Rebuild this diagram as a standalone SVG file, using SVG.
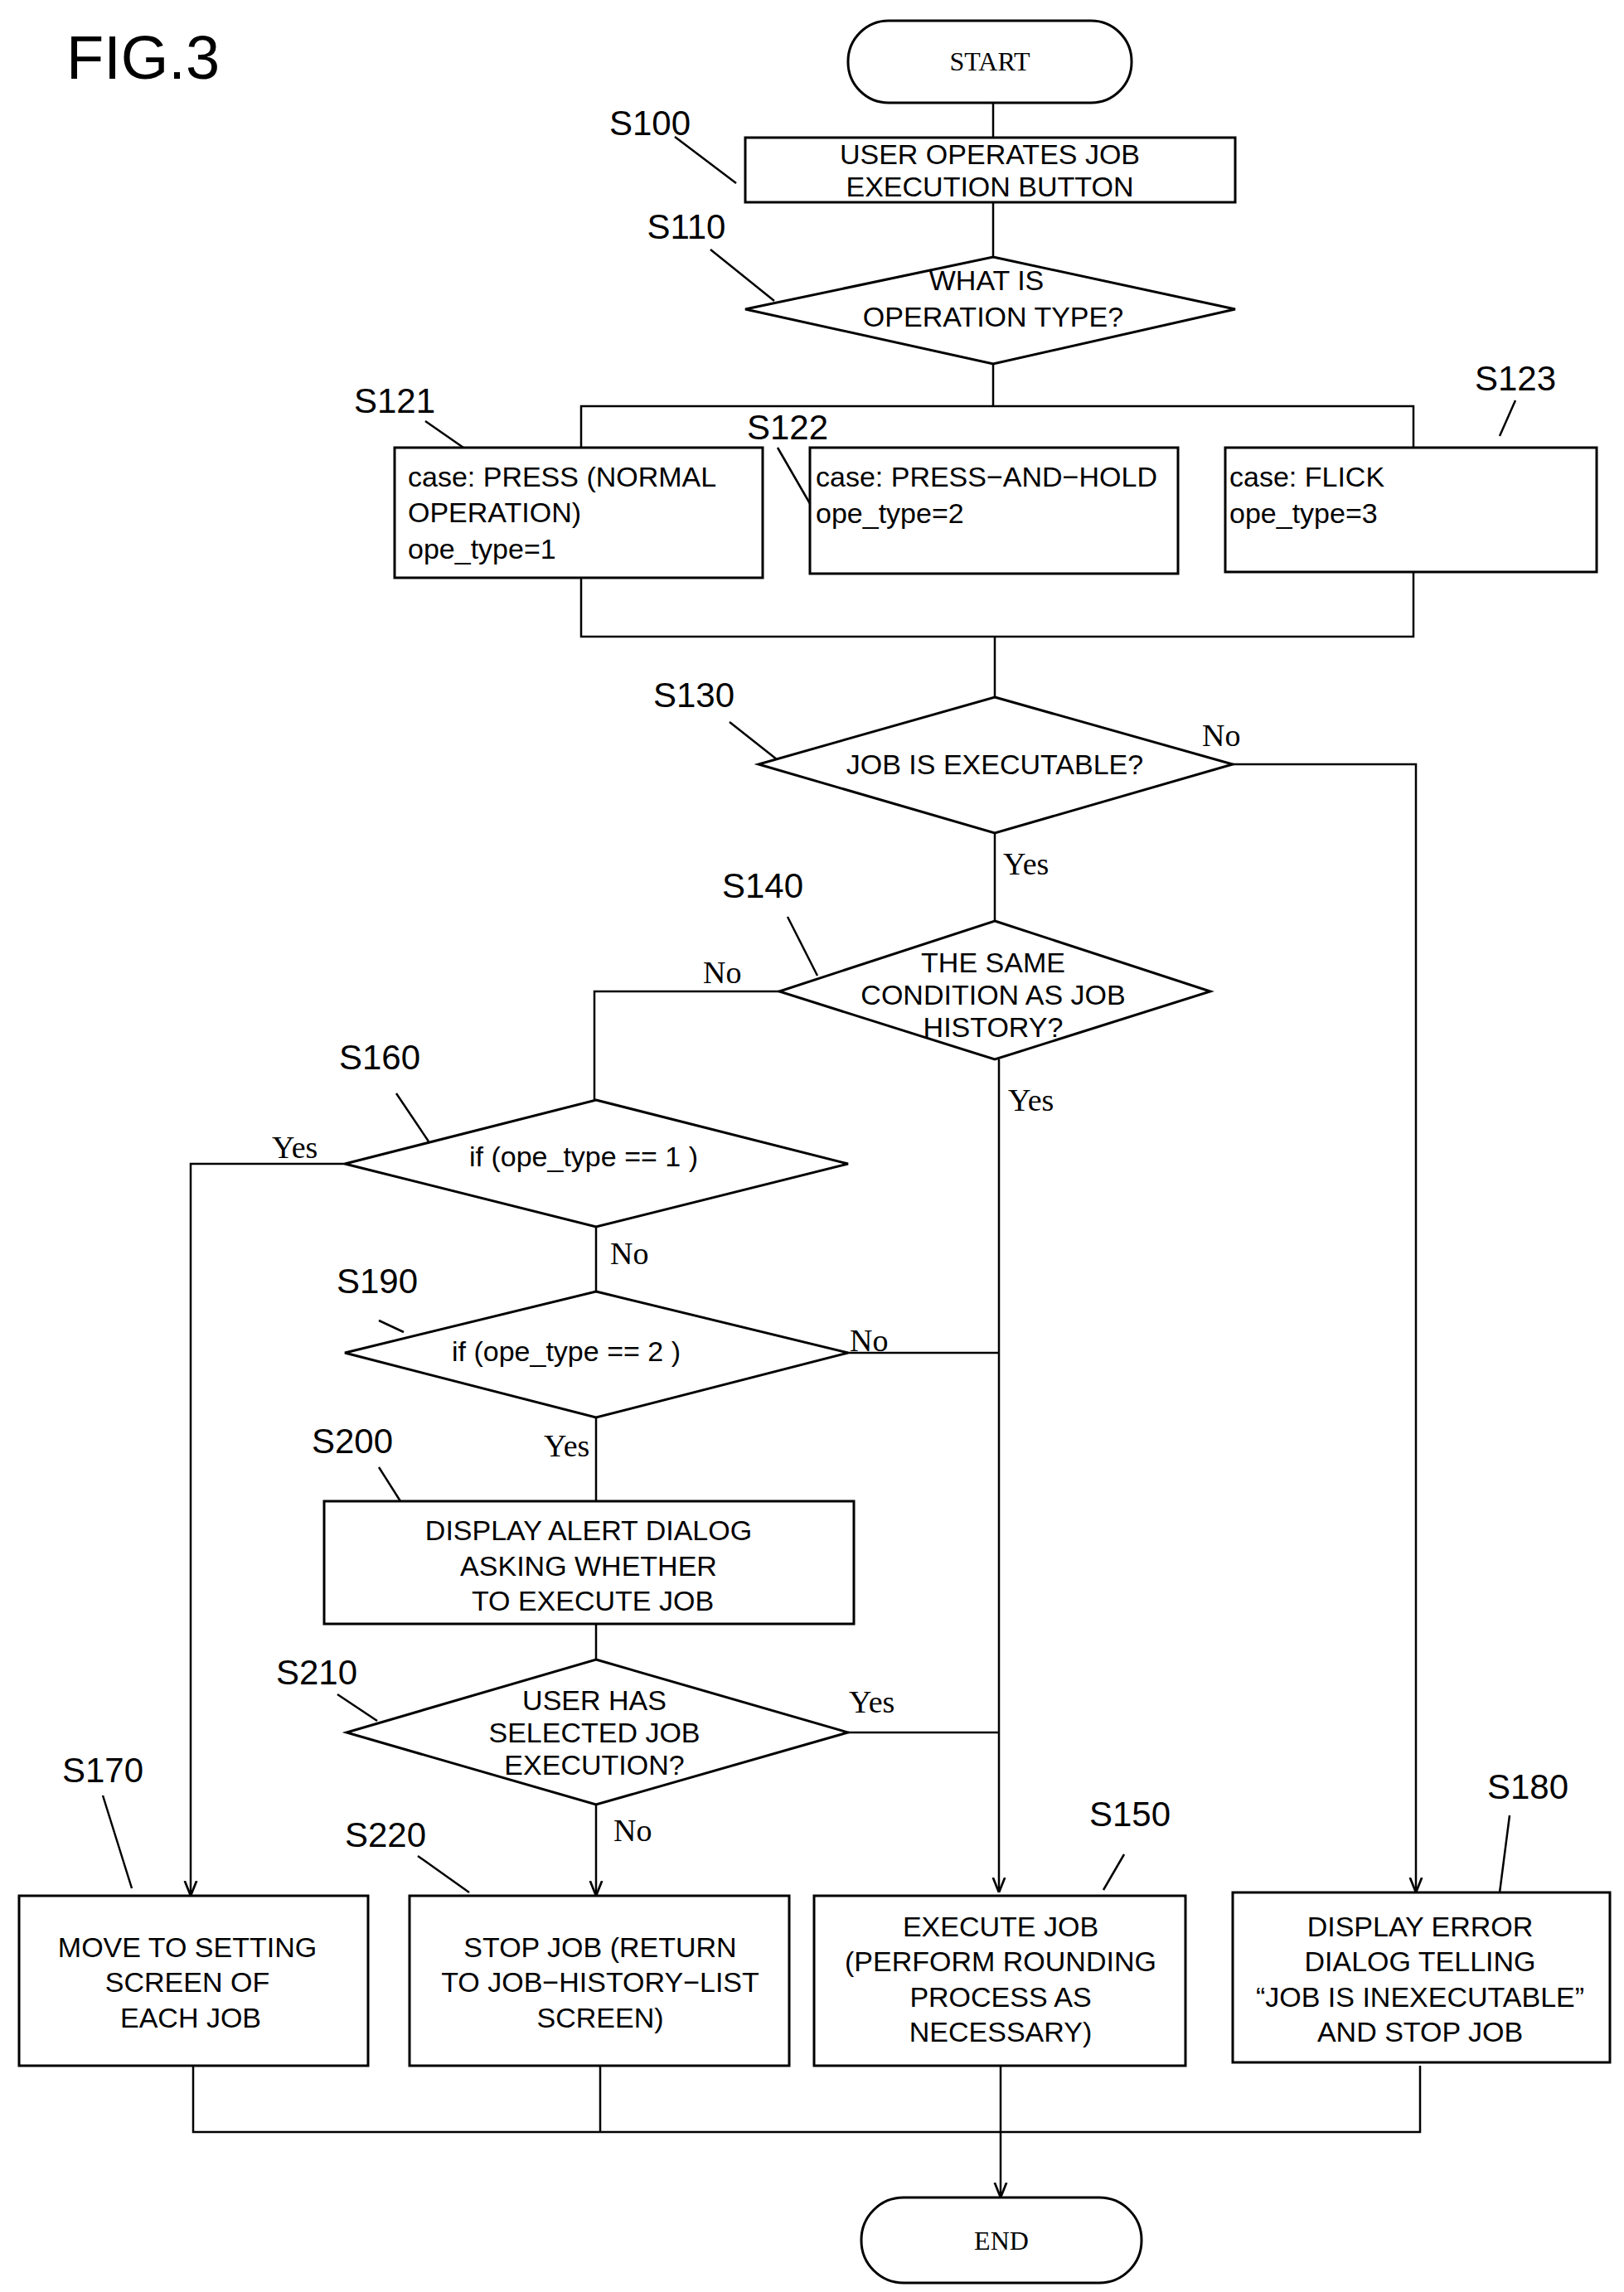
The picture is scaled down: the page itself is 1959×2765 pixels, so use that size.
<svg xmlns="http://www.w3.org/2000/svg" width="1959" height="2765" viewBox="0 0 1959 2765">
<style>
.s{fill:#fff;stroke:#000;stroke-width:3}
.c{fill:none;stroke:#000;stroke-width:2.5}
.t{font-family:"Liberation Sans",Arial,sans-serif;font-size:34px;fill:#000;dominant-baseline:central}
.m{text-anchor:middle}
.lb{font-family:"Liberation Sans",Arial,sans-serif;font-size:42px;fill:#000;text-anchor:middle}
.yn{font-family:"Liberation Serif",serif;font-size:38px;fill:#000}
.sv{font-family:"Liberation Serif",serif;font-size:32px;fill:#000;dominant-baseline:central;text-anchor:middle}
</style>
<defs><marker id="a" viewBox="0 0 10 10" refX="10" refY="5" markerWidth="8" markerHeight="8" markerUnits="userSpaceOnUse" orient="auto"><path d="M0,0L10,5L0,10z" fill="#000"/></marker>
<marker id="ah" viewBox="0 0 10 10" refX="10" refY="5" markerWidth="18" markerHeight="18" markerUnits="userSpaceOnUse" orient="auto"><path d="M0,1L10,5L0,9" fill="none" stroke="#000" stroke-width="1.5"/></marker></defs>
<rect width="1959" height="2765" fill="#fff"/>
<text x="80" y="95" font-family="Liberation Sans,Arial,sans-serif" font-size="74">FIG.3</text>
<g id="connectors" class="c">
<path d="M1198 124V166M1198 244V310M1198 439V490M701 490H1705V768H701ZM1200 768V841"/>
<path d="M1487 922H1708V2283" marker-end="url(#ah)"/>
<path d="M1200 1005V1111M940 1196H717V1327"/>
<path d="M1205 1278V2283" marker-end="url(#ah)"/>
<path d="M416 1404H230V2287" marker-end="url(#ah)"/>
<path d="M719 1480V1558M1023 1632H1205M719 1710V1811M719 1959V2002M1023 2090H1205"/>
<path d="M719 2177V2287" marker-end="url(#ah)"/>
<path d="M233 2492V2572H1713V2492M724 2492V2572"/>
<path d="M1207 2492V2651" marker-end="url(#ah)"/>
<path d="M814 165L888 221M857 301L934 363M513 508L572 549M938 540L979 611M1828 483L1809 526M880 871L942 920M950 1106L986 1177M478 1319L517 1377M457 1593L487 1607M457 1770L483 1811M407 2044L455 2076M124 2166L159 2278M504 2239L566 2283M1356 2237L1331 2280M1821 2190L1809 2283"/>
</g>
<g id="start"><rect class="s" x="1023" y="25" width="342" height="99" rx="49"/><text class="sv" x="1194" y="74">START</text></g>
<g id="S100"><rect class="s" x="899" y="166" width="591" height="78"/><text class="t m" x="1194" y="186">USER OPERATES JOB</text><text class="t m" x="1194" y="225">EXECUTION BUTTON</text><text class="lb" x="784" y="163">S100</text></g>
<g id="S110"><path class="s" d="M1198 310L1490 373L1198 439L899 373Z"/><text class="t m" x="1190" y="338">WHAT IS</text><text class="t m" x="1198" y="382">OPERATION TYPE?</text><text class="lb" x="828" y="288">S110</text></g>
<g id="S121"><rect class="s" x="476" y="540" width="444" height="157"/><text class="t" x="492" y="575">case: PRESS (NORMAL</text><text class="t" x="492" y="618">OPERATION)</text><text class="t" x="492" y="662">ope_type=1</text><text class="lb" x="476" y="498">S121</text></g>
<g id="S122"><rect class="s" x="977" y="540" width="444" height="152"/><text class="t" x="984" y="575">case: PRESS−AND−HOLD</text><text class="t" x="984" y="619">ope_type=2</text><text class="lb" x="950" y="530">S122</text></g>
<g id="S123"><rect class="s" x="1478" y="540" width="448" height="150"/><text class="t" x="1483" y="575">case: FLICK</text><text class="t" x="1483" y="619">ope_type=3</text><text class="lb" x="1828" y="471">S123</text></g>
<g id="S130"><path class="s" d="M1200 841L1487 922L1200 1005L915 922Z"/><text class="t m" x="1200" y="922">JOB IS EXECUTABLE?</text><text class="lb" x="837" y="853">S130</text><text class="yn" x="1450" y="900">No</text><text class="yn" x="1210" y="1055">Yes</text></g>
<g id="S140"><path class="s" d="M1200 1111L1460 1196L1200 1278L940 1196Z"/><text class="t m" x="1198" y="1161">THE SAME</text><text class="t m" x="1198" y="1200">CONDITION AS JOB</text><text class="t m" x="1198" y="1239">HISTORY?</text><text class="lb" x="920" y="1083">S140</text><text class="yn" x="848" y="1186">No</text><text class="yn" x="1216" y="1340">Yes</text></g>
<g id="S160"><path class="s" d="M719 1327L1023 1404L719 1480L416 1404Z"/><text class="t m" x="704" y="1395" font-size="30">if (ope_type == 1 )</text><text class="lb" x="458" y="1290">S160</text><text class="yn" x="328" y="1397">Yes</text><text class="yn" x="736" y="1525">No</text></g>
<g id="S190"><path class="s" d="M719 1558L1023 1632L719 1710L416 1632Z"/><text class="t m" x="683" y="1630" font-size="30">if (ope_type == 2 )</text><text class="lb" x="455" y="1560">S190</text><text class="yn" x="1025" y="1630">No</text><text class="yn" x="656" y="1757">Yes</text></g>
<g id="S200"><rect class="s" x="391" y="1811" width="639" height="148"/><text class="t m" x="710" y="1846">DISPLAY ALERT DIALOG</text><text class="t m" x="710" y="1889">ASKING WHETHER</text><text class="t m" x="715" y="1931">TO EXECUTE JOB</text><text class="lb" x="425" y="1753">S200</text></g>
<g id="S210"><path class="s" d="M719 2002L1023 2090L719 2177L418 2090Z"/><text class="t m" x="717" y="2051">USER HAS</text><text class="t m" x="717" y="2090">SELECTED JOB</text><text class="t m" x="717" y="2129">EXECUTION?</text><text class="lb" x="382" y="2032">S210</text><text class="yn" x="1024" y="2066">Yes</text><text class="yn" x="740" y="2221">No</text></g>
<g id="S170"><rect class="s" x="23" y="2287" width="421" height="205"/><text class="t m" x="226" y="2349">MOVE TO SETTING</text><text class="t m" x="226" y="2391">SCREEN OF</text><text class="t m" x="230" y="2434">EACH JOB</text><text class="lb" x="124" y="2150">S170</text></g>
<g id="S220"><rect class="s" x="494" y="2287" width="458" height="205"/><text class="t m" x="724" y="2349">STOP JOB (RETURN</text><text class="t m" x="724" y="2391">TO JOB−HISTORY−LIST</text><text class="t m" x="724" y="2434">SCREEN)</text><text class="lb" x="465" y="2228">S220</text></g>
<g id="S150"><rect class="s" x="982" y="2287" width="448" height="205"/><text class="t m" x="1207" y="2324">EXECUTE JOB</text><text class="t m" x="1207" y="2366">(PERFORM ROUNDING</text><text class="t m" x="1207" y="2409">PROCESS AS</text><text class="t m" x="1207" y="2451">NECESSARY)</text><text class="lb" x="1363" y="2203">S150</text></g>
<g id="S180"><rect class="s" x="1487" y="2283" width="455" height="205"/><text class="t m" x="1713" y="2324">DISPLAY ERROR</text><text class="t m" x="1713" y="2366">DIALOG TELLING</text><text class="t m" x="1713" y="2409">“JOB IS INEXECUTABLE”</text><text class="t m" x="1713" y="2451">AND STOP JOB</text><text class="lb" x="1843" y="2170">S180</text></g>
<g id="end"><rect class="s" x="1039" y="2651" width="338" height="103" rx="51"/><text class="sv" x="1208" y="2703">END</text></g>
</svg>
